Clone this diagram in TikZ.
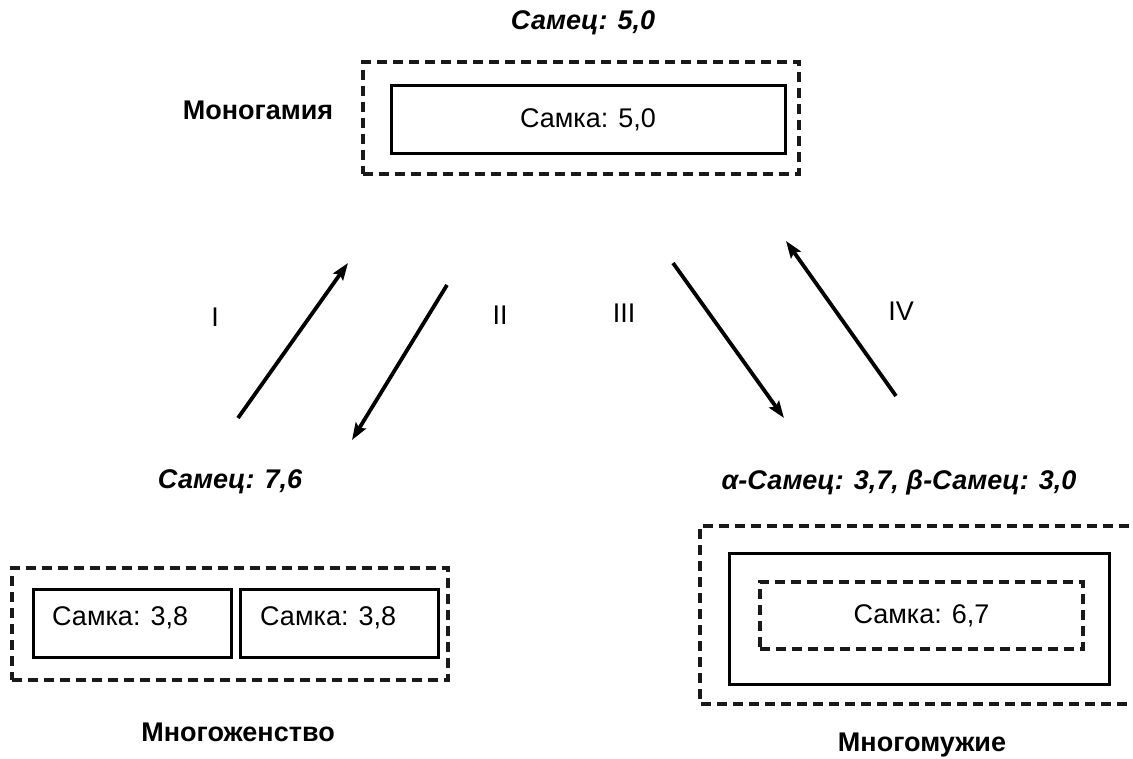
\documentclass[tikz,border=0pt]{standalone}
\usepackage{fontspec}
\setmainfont{Liberation Sans}
\usetikzlibrary{arrows.meta}
\begin{document}
\begin{tikzpicture}[x=1pt,y=-1pt,
  txt/.style={inner sep=0pt,font=\fontsize{27}{32}\selectfont},
  bold/.style={txt,font=\fontsize{27}{32}\selectfont\bfseries},
  bolditalic/.style={txt,font=\fontsize{27}{32}\selectfont\bfseries\itshape},
  solidbox/.style={draw,line width=3pt,inner sep=0pt,rectangle},
  groupbox/.style={draw=black!90,line width=3.2pt,dash pattern=on 10pt off 6pt,inner sep=0pt,rectangle},
  trans/.style={line width=3.8pt,-{Stealth[length=17pt,width=12pt,inset=3pt]}}
]
\useasboundingbox (0,0) rectangle (1133,759);

% Monogamy
\node[bolditalic] (mmale) at (583,23) {Самец: 5,0};
\node[groupbox,minimum width=436pt,minimum height=112pt] (mgroup) at (581,118) {};
\node[solidbox,minimum width=394pt,minimum height=68pt,txt] (mfem) at (588,120) {Самка: 5,0};
\node[bold] (mname) at (258,110) {Моногамия};

% Polygyny
\node[bolditalic] (gmale) at (230,482) {Самец: 7,6};
\node[groupbox,minimum width=436pt,minimum height=112pt] (ggroup) at (230,624) {};
\node[solidbox,minimum width=198pt,minimum height=68pt] (gfem1) at (132,623) {};
\node[solidbox,minimum width=198pt,minimum height=68pt] (gfem2) at (339,623) {};
\node[txt,anchor=west] (gfem1t) at (52,618) {Самка: 3,8};
\node[txt,anchor=west] (gfem2t) at (260,618) {Самка: 3,8};
\node[bold] (gname) at (238,732) {Многоженство};

% Polyandry
\node[bolditalic] (amale) at (899,483) {α-Самец: 3,7, β-Самец: 3,0};
\draw[groupbox] (1145,526) -- (700,526) -- (700,704) -- (1145,704);
\node[solidbox,minimum width=380pt,minimum height=131pt] (amales) at (919,618.5) {};
\node[groupbox,minimum width=323pt,minimum height=67pt,txt] (afem) at (921.5,615.5) {Самка: 6,7};
\node[bold] (aname) at (922,745) {Многомужие};

% Transitions
\coordinate (t1s) at (238,418); \coordinate (t1e) at (348,263);
\coordinate (t2s) at (447,285); \coordinate (t2e) at (352,440);
\coordinate (t3s) at (673,263); \coordinate (t3e) at (784,418);
\coordinate (t4s) at (896,396); \coordinate (t4e) at (786,241);
\draw[trans] (t1s) -- (t1e);
\draw[trans] (t2s) -- (t2e);
\draw[trans] (t3s) -- (t3e);
\draw[trans] (t4s) -- (t4e);
\node[txt] (l1) at (215,317) {I};
\node[txt] (l2) at (500,315) {II};
\node[txt] (l3) at (624,313) {III};
\node[txt] (l4) at (901,311) {IV};
\end{tikzpicture}
\end{document}
